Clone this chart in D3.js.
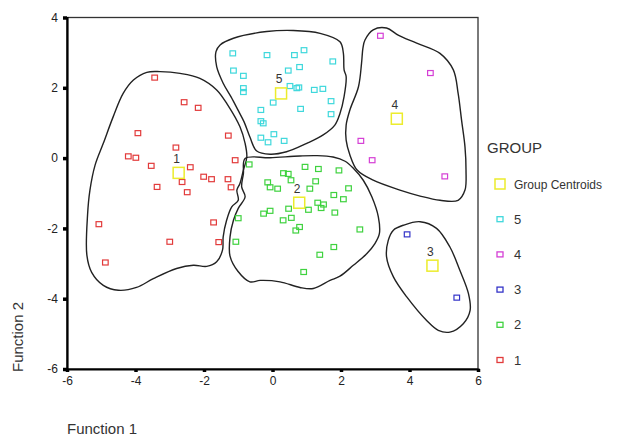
<!DOCTYPE html>
<html><head><meta charset="utf-8">
<script src="https://cdn.jsdelivr.net/npm/d3@7/dist/d3.min.js"></script>
<style>body{margin:0;background:#fff}svg{display:block}text{font-family:"Liberation Sans",Arial,sans-serif}</style>
</head><body>
<svg id="c" width="624" height="436"></svg>
<script>
// ---- data (discriminant scores, Function 1 vs Function 2) ----
const xTicks = [-6, -4, -2, 0, 2, 4, 6];
const yTicks = [4, 2, 0, -2, -4, -6];
const groups = ["1", "2", "3", "4", "5"];
const legendLabels = ["Group Centroids", "5", "4", "3", "2", "1"];

const group1 = [[-3.44,2.29],[-2.58,1.59],[-2.17,1.43],[-3.93,0.71],[-1.29,0.64],[-2.82,0.30],[-4.21,0.05],[-3.99,0.01],[-1.09,-0.06],[-3.54,-0.22],[-2.40,-0.26],[-2.01,-0.53],[-1.78,-0.60],[-1.30,-0.60],[-2.64,-0.68],[-1.21,-0.83],[-3.37,-0.82],[-2.49,-0.97],[-1.72,-1.83],[-5.07,-1.88],[-3.00,-2.38],[-1.57,-2.39],[-4.88,-2.97]];
const group2 = [[-0.68,-0.18],[0.95,-0.25],[1.34,-0.31],[1.94,-0.35],[0.32,-0.43],[0.46,-0.45],[0.54,-0.63],[1.26,-0.66],[-0.14,-0.69],[-0.07,-0.83],[0.15,-0.87],[1.09,-0.87],[2.22,-0.86],[1.79,-1.05],[2.07,-1.17],[1.32,-1.27],[1.49,-1.32],[1.42,-1.42],[0.47,-1.44],[1.05,-1.47],[-0.07,-1.50],[-0.26,-1.58],[1.82,-1.55],[0.55,-1.70],[0.31,-1.77],[-1.00,-1.71],[0.79,-1.96],[0.68,-2.06],[2.55,-2.03],[-1.07,-2.38],[1.79,-2.53],[1.38,-2.75],[0.91,-3.24]];
const group3 = [[3.93,-2.17],[5.38,-3.97]];
const group4 = [[3.15,3.48],[4.61,2.42],[2.58,0.49],[2.91,-0.06],[5.03,-0.52]];
const group5 = [[-1.16,2.98],[-0.16,2.93],[0.64,2.93],[0.92,3.07],[1.76,2.75],[0.79,2.59],[0.46,2.49],[-1.14,2.49],[-0.85,2.34],[-0.85,1.99],[-0.85,1.88],[0.51,2.05],[0.71,1.99],[0.77,2.01],[1.22,1.94],[1.47,1.97],[0.02,1.58],[1.71,1.62],[-0.34,1.37],[0.82,1.40],[1.71,1.25],[-0.34,1.05],[-0.27,0.99],[0.04,0.68],[-0.34,0.58],[-0.13,0.45],[0.34,0.49]];
const centroids = [[-2.74,-0.42],[0.78,-1.27],[4.67,-3.06],[3.63,1.12],[0.25,1.84]];

// hand-drawn group outlines (data units)
const outline1 = [[-4.06,2.22],[-3.67,2.44],[-3.28,2.46],[-2.70,2.41],[-2.12,2.27],[-1.63,1.94],[-1.30,1.50],[-0.95,0.89],[-0.80,0.42],[-0.75,0.03],[-0.85,-0.34],[-0.95,-0.72],[-1.04,-0.91],[-1.00,-1.20],[-1.19,-1.39],[-1.34,-1.77],[-1.44,-2.24],[-1.46,-2.62],[-1.63,-2.95],[-1.92,-3.08],[-2.31,-3.05],[-2.80,-3.14],[-3.48,-3.43],[-3.97,-3.68],[-4.50,-3.76],[-4.94,-3.62],[-5.28,-3.25],[-5.42,-2.76],[-5.40,-1.62],[-5.33,-0.91],[-5.18,-0.20],[-4.94,0.42],[-4.65,1.18],[-4.36,1.84]];
const outline2 = [[-0.80,-0.01],[-0.07,0.01],[0.80,0.06],[1.29,0.07],[1.77,0.03],[2.12,-0.09],[2.36,-0.29],[2.65,-0.63],[2.90,-1.10],[3.09,-1.67],[3.12,-2.15],[2.99,-2.43],[2.75,-2.72],[2.36,-3.05],[1.97,-3.36],[1.68,-3.48],[1.19,-3.71],[0.80,-3.68],[0.22,-3.52],[-0.36,-3.48],[-0.66,-3.52],[-1.01,-3.22],[-1.24,-2.79],[-1.24,-2.24],[-1.14,-1.77],[-1.00,-1.43],[-0.80,-1.10],[-0.90,-0.82],[-0.85,-0.44]];
const outline3 = [[3.53,-2.05],[3.82,-1.91],[4.31,-1.81],[4.79,-2.00],[5.18,-2.53],[5.47,-3.19],[5.72,-3.85],[5.77,-4.33],[5.57,-4.71],[5.18,-4.95],[4.84,-4.90],[4.50,-4.62],[3.92,-3.95],[3.53,-3.38],[3.33,-2.81],[3.38,-2.34]];
const outline4 = [[2.70,3.36],[2.94,3.65],[3.33,3.70],[3.67,3.50],[4.21,3.27],[4.89,2.98],[5.28,2.51],[5.42,1.84],[5.52,1.08],[5.62,0.32],[5.65,-0.34],[5.62,-0.91],[5.42,-1.20],[4.89,-1.20],[4.31,-1.08],[3.72,-0.91],[2.94,-0.63],[2.47,-0.34],[2.26,0.09],[2.15,0.51],[2.15,0.94],[2.26,1.37],[2.51,2.03],[2.60,2.70],[2.64,3.13]];
const outline5 = [[-1.65,3.03],[-1.53,3.22],[-1.14,3.41],[-0.17,3.60],[0.61,3.63],[1.39,3.55],[1.97,3.31],[2.07,2.98],[2.09,2.51],[2.15,2.32],[2.09,1.75],[1.97,1.27],[1.82,0.94],[1.48,0.66],[1.00,0.42],[0.41,0.18],[-0.07,0.11],[-0.46,0.20],[-0.66,0.60],[-0.83,1.03],[-1.01,1.37],[-1.21,1.74],[-1.44,2.13],[-1.63,2.60]];

// ---- drawing ----
const colors = {"1":"#e23b3b","2":"#3fd23f","3":"#3434c8","4":"#d53fd5","5":"#3fd8dc","c":"#ecec2c"};
const svg = d3.select("#c");
const x = d3.scaleLinear().domain([-6, 6]).range([67, 478]);
const y = d3.scaleLinear().domain([-6, 4]).range([369, 17.5]);

// frame
svg.append("rect").attr("x", x(-6)).attr("y", y(4)).attr("width", x(6)-x(-6)).attr("height", y(-6)-y(4))
  .attr("fill", "none").attr("stroke", "#333").attr("stroke-width", 1.3);

// outlines
const path = d3.line().x(d => x(d[0])).y(d => y(d[1])).curve(d3.curveCatmullRomClosed.alpha(0.5));
[outline1, outline2, outline3, outline4, outline5].forEach(o => {
  svg.append("path").attr("d", path(o)).attr("fill", "none").attr("stroke", "#222").attr("stroke-width", 1.4);
});

// axes
const ax = svg.append("g").attr("transform", `translate(0,${y(-6)})`)
  .call(d3.axisBottom(x).tickValues(xTicks).tickFormat(d => String(d)).tickSize(3).tickPadding(4));
const ay = svg.append("g").attr("transform", `translate(${x(-6)},0)`)
  .call(d3.axisLeft(y).tickValues(yTicks).tickFormat(d => String(d)).tickSize(4).tickPadding(5));
[ax, ay].forEach(g => {
  g.select(".domain").attr("stroke", "#000").attr("stroke-width", 2.2);
  g.selectAll(".tick line").attr("stroke", "#000").attr("stroke-width", 3.5);
  g.selectAll(".tick text").attr("fill", "#222").style("font-size", "12px");
});

// points
const pts = [group1, group2, group3, group4, group5];
pts.forEach((arr, i) => {
  const c = colors[groups[i]];
  svg.append("g").selectAll("rect").data(arr).join("rect")
    .attr("x", d => x(d[0]) - 2.8).attr("y", d => y(d[1]) - 2.5)
    .attr("width", 5.6).attr("height", 5)
    .attr("fill", "none").attr("stroke", c).attr("stroke-width", 1.2);
});

// centroids
svg.append("g").selectAll("rect").data(centroids).join("rect")
  .attr("x", d => x(d[0]) - 5.5).attr("y", d => y(d[1]) - 5.5)
  .attr("width", 11).attr("height", 11)
  .attr("fill", "none").attr("stroke", colors.c).attr("stroke-width", 1.5);
svg.append("g").selectAll("text").data(centroids).join("text")
  .attr("x", d => x(d[0]) - 2).attr("y", d => y(d[1]) - 10)
  .attr("text-anchor", "middle").attr("fill", "#333").style("font-size", "12px")
  .text((d, i) => groups[i]);

// axis titles
svg.append("text").attr("x", 67).attr("y", 434).attr("fill", "#333").style("font-size", "15px").text("Function 1");
svg.append("text").attr("transform", "translate(23,372) rotate(-90)").attr("fill", "#333").style("font-size", "15px").text("Function 2");

// legend
svg.append("text").attr("x", 487).attr("y", 153).attr("fill", "#333").style("font-size", "15px").text("GROUP");
const legColors = [colors.c, colors["5"], colors["4"], colors["3"], colors["2"], colors["1"]];
const lg = svg.append("g").selectAll("g").data(legendLabels).join("g")
  .attr("transform", (d, i) => `translate(500,${184 + i * 35.2})`);
lg.append("rect")
  .attr("x", (d, i) => i === 0 ? -5 : -3).attr("y", (d, i) => i === 0 ? -5 : -2.5)
  .attr("width", (d, i) => i === 0 ? 10 : 6).attr("height", (d, i) => i === 0 ? 10 : 5)
  .attr("fill", "none").attr("stroke", (d, i) => legColors[i]).attr("stroke-width", (d, i) => i === 0 ? 1.5 : 1.3);
lg.append("text").attr("x", 14).attr("y", 4.5).attr("fill", "#333")
  .style("font-size", (d, i) => i === 0 ? "12px" : "13px").text(d => d);
</script>
</body></html>
